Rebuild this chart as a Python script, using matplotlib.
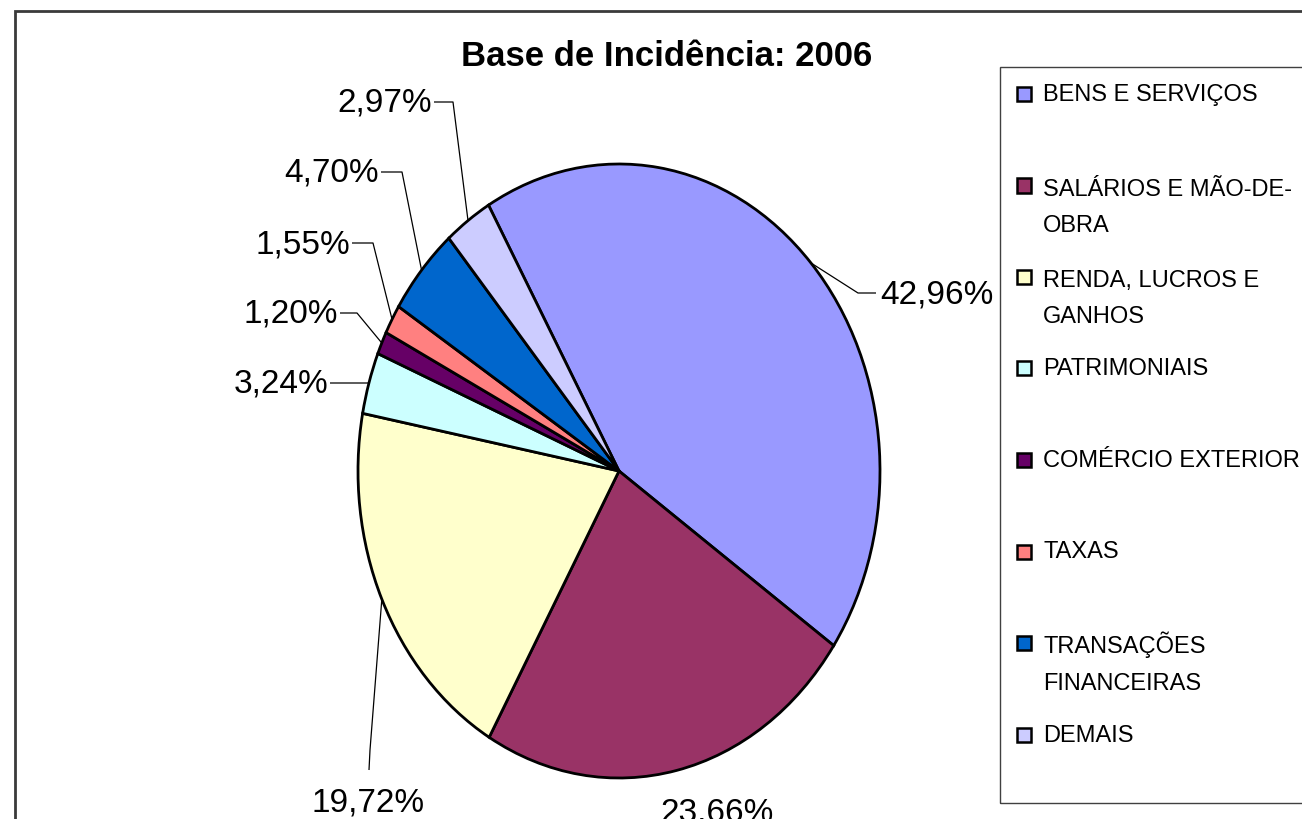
import numpy as np
import matplotlib
matplotlib.use('Agg')
import matplotlib.pyplot as plt
from matplotlib.patches import Rectangle

plt.rcParams['font.family'] = ['Liberation Sans', 'DejaVu Sans']

# ---- data ----
categories = ['BENS E SERVIÇOS', 'SALÁRIOS E MÃO-DE-\nOBRA', 'RENDA, LUCROS E\nGANHOS',
              'PATRIMONIAIS', 'COMÉRCIO EXTERIOR', 'TAXAS', 'TRANSAÇÕES\nFINANCEIRAS', 'DEMAIS']
values = [42.96, 23.66, 19.72, 3.24, 1.20, 1.55, 4.70, 2.97]
colors = ['#9999FF', '#993366', '#FFFFCC', '#CCFFFF', '#660066', '#FF8080', '#0066CC', '#CCCCFF']
title = 'Base de Incidência: 2006'

# ---- layout (pixels, origin top-left) ----
W, H = 1302, 819
CX, CY, RX, RY = 619, 471, 261, 307

# label layout: (x, baseline_y, ha, leader points after the wedge edge point)
label_layout = [
    (880, 303, 'left',   [(858, 293), (876, 293)]),
    (717, 822, 'center', None),
    (368, 812, 'center', [(370, 750), (369, 770)]),
    (328, 393, 'right',  [(347, 383), (330, 383)]),
    (338, 323, 'right',  [(357, 313), (340, 313)]),
    (350, 253, 'right',  [(373, 243), (352, 243)]),
    (379, 182, 'right',  [(402, 172), (381, 172)]),
    (432, 112, 'right',  [(453, 102), (434, 102)]),
]
LEG_LINE = 39.5

fig = plt.figure(figsize=(W / 100, H / 100), dpi=100)
ax = fig.add_axes([0, 0, 1, 1])
wedges, _ = ax.pie(values, colors=colors, startangle=120, counterclock=False,
                   radius=1, center=(0, 0),
                   wedgeprops=dict(edgecolor='black', linewidth=2.0))
ax.set_aspect('auto')
ax.set_xlim(-CX / RX, (W - CX) / RX)
ax.set_ylim(-(H - CY) / RY, CY / RY)
ax.axis('off')


def d(px, py):
    return ((px - CX) / RX, (CY - py) / RY)


def f(px, py):
    return (px / W, 1 - py / H)


# percentage labels with leader lines
for w, v, (lx, ly, ha, leader) in zip(wedges, values, label_layout):
    txt = f"{v:.2f}".replace('.', ',') + '%'
    if leader is not None:
        mid = np.deg2rad((w.theta1 + w.theta2) / 2)
        xs = [np.cos(mid)] + [d(*p)[0] for p in leader]
        ys = [np.sin(mid)] + [d(*p)[1] for p in leader]
        ax.plot(xs, ys, color='black', lw=0.9, solid_capstyle='butt')
    tx, ty = d(lx, ly)
    ax.text(tx, ty, txt, ha=ha, va='baseline', fontsize=24, color='black')

# title
fig.text(*f(667, 66), title, ha='center', va='baseline', fontsize=25,
         fontweight='bold', color='black')

# outer chart border
fig.patches.append(Rectangle(f(15, 830), (1320 - 15) / W, (830 - 11) / H,
                             transform=fig.transFigure, fill=False,
                             edgecolor='#3a3a3a', lw=2))

# legend box
fig.patches.append(Rectangle(f(1000, 803), (1320 - 1000) / W, (803 - 67) / H,
                             transform=fig.transFigure, fill=False,
                             edgecolor='#404040', lw=1))
for i, (cat, col) in enumerate(zip(categories, colors)):
    base = 101 + i * 91.5
    nl = cat.count('\n')
    fig.patches.append(Rectangle(f(1017, base), 14 / W, 14 / H,
                                 transform=fig.transFigure, facecolor=col,
                                 edgecolor='black', lw=1.8))
    fig.text(*f(1043, base + nl * LEG_LINE), cat, ha='left', va='baseline',
             fontsize=17, linespacing=1.85, color='black')

fig.savefig('out.png', dpi=100)
